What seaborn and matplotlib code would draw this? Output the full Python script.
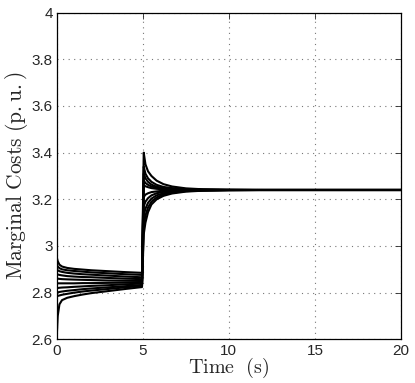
import pandas as pd
import seaborn as sns
import matplotlib.pyplot as plt

sns.set_style('white')
plt.rcParams['font.family'] = ['Liberation Sans', 'DejaVu Sans']
plt.rcParams['mathtext.fontset'] = 'cm'

# time samples (s)
t = [0, 0.05, 0.15, 0.3, 0.6, 1, 1.5, 2, 3, 4, 4.95, 5.05, 5.15, 5.3, 5.5,
     5.8, 6.2, 6.7, 7.5, 8.5, 10, 12, 20]

# marginal cost of each unit (p.u.)
g1 = [2.95, 2.935, 2.92, 2.912, 2.906, 2.902, 2.899, 2.896, 2.892, 2.888, 2.885,
      3.40, 3.35, 3.32, 3.30, 3.28, 3.265, 3.255, 3.247, 3.243, 3.241, 3.24, 3.24]
g2 = [2.92, 2.912, 2.905, 2.90, 2.896, 2.893, 2.89, 2.887, 2.883, 2.879, 2.876,
      3.34, 3.31, 3.29, 3.275, 3.262, 3.253, 3.248, 3.244, 3.242, 3.241, 3.24, 3.24]
g3 = [2.90, 2.896, 2.892, 2.889, 2.885, 2.882, 2.879, 2.877, 2.873, 2.869, 2.866,
      3.31, 3.29, 3.275, 3.263, 3.254, 3.248, 3.245, 3.243, 3.241, 3.24, 3.24, 3.24]
g4 = [2.88, 2.878, 2.876, 2.874, 2.871, 2.869, 2.867, 2.866, 2.863, 2.86, 2.858,
      3.28, 3.27, 3.262, 3.255, 3.249, 3.245, 3.243, 3.241, 3.24, 3.24, 3.24, 3.24]
g5 = [2.86, 2.86, 2.859, 2.858, 2.857, 2.856, 2.855, 2.854, 2.852, 2.851, 2.85,
      3.26, 3.256, 3.252, 3.248, 3.245, 3.243, 3.242, 3.241, 3.24, 3.24, 3.24, 3.24]
g6 = [2.84, 2.84, 2.84, 2.84, 2.84, 2.84, 2.841, 2.841, 2.842, 2.843, 2.844,
      3.21, 3.22, 3.226, 3.231, 3.234, 3.237, 3.238, 3.239, 3.24, 3.24, 3.24, 3.24]
g7 = [2.82, 2.82, 2.821, 2.822, 2.823, 2.825, 2.827, 2.829, 2.832, 2.836, 2.839,
      3.17, 3.19, 3.205, 3.217, 3.226, 3.232, 3.235, 3.238, 3.239, 3.24, 3.24, 3.24]
g8 = [2.80, 2.801, 2.803, 2.805, 2.808, 2.811, 2.815, 2.818, 2.823, 2.828, 2.833,
      3.13, 3.16, 3.185, 3.203, 3.217, 3.226, 3.232, 3.236, 3.238, 3.24, 3.24, 3.24]
g9 = [2.785, 2.786, 2.788, 2.791, 2.795, 2.80, 2.805, 2.809, 2.816, 2.823, 2.829,
      3.09, 3.13, 3.165, 3.19, 3.208, 3.221, 3.229, 3.235, 3.238, 3.239, 3.24, 3.24]
g10 = [2.62, 2.70, 2.75, 2.768, 2.778, 2.785, 2.792, 2.798, 2.807, 2.816, 2.824,
       3.05, 3.10, 3.145, 3.178, 3.2, 3.215, 3.225, 3.233, 3.237, 3.239, 3.24, 3.24]

units = [g1, g2, g3, g4, g5, g6, g7, g8, g9, g10]

yticks = [2.6, 2.8, 3, 3.2, 3.4, 3.6, 3.8, 4]
ytick_labels = ['2.6', '2.8', '3', '3.2', '3.4', '3.6', '3.8', '4']
xticks = [0, 5, 10, 15, 20]

rows = []
for i, vals in enumerate(units):
    for tt, v in zip(t, vals):
        rows.append({'Time': tt, 'Cost': v, 'Unit': i})
df = pd.DataFrame(rows)

fig = plt.figure(figsize=(4.15, 3.83), dpi=100)
ax = fig.add_axes([0.137, 0.114, 0.829, 0.853])
sns.lineplot(data=df, x='Time', y='Cost', units='Unit', estimator=None,
             color='black', linewidth=1.5, ax=ax)

ax.set_xlim(0, 20)
ax.set_ylim(2.6, 4)
ax.set_xticks(xticks)
ax.set_xticklabels([str(x) for x in xticks], fontsize=11)
ax.set_yticks(yticks)
ax.set_yticklabels(ytick_labels, fontsize=11)
ax.tick_params(direction='in', top=True, right=True, length=4, width=0.6, pad=3)
ax.grid(True, linestyle=(0, (1, 4)), color='#777777', linewidth=0.8)
for s in ax.spines.values():
    s.set_color('black')
    s.set_linewidth(0.9)

ax.set_xlabel(r'$\mathrm{Time\ \ (s)}$', fontsize=14.5, labelpad=-1)
ax.set_ylabel(r'$\mathrm{Marginal\ Costs\ (p.u.)}$', fontsize=15.5, labelpad=1)

fig.savefig('out.png', dpi=100)
